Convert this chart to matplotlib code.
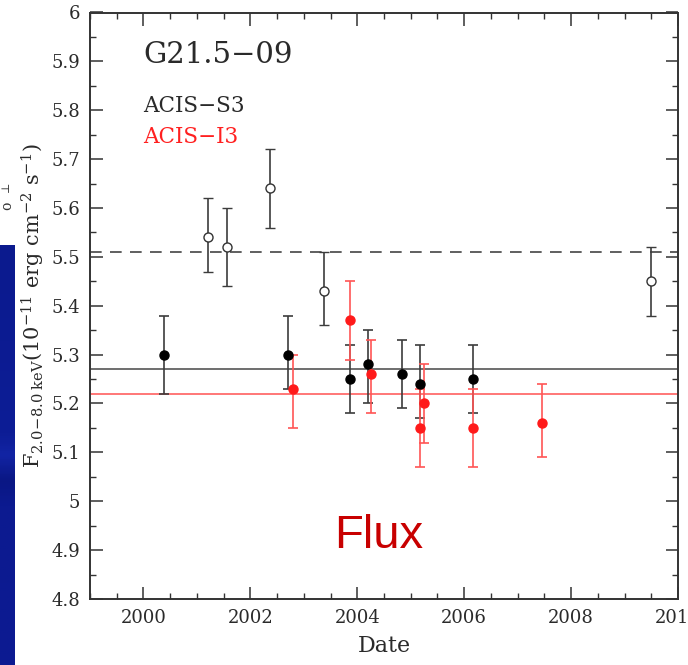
import numpy as np
import matplotlib
matplotlib.use("Agg")
import matplotlib.pyplot as plt
from matplotlib.ticker import MultipleLocator, FormatStrFormatter
from matplotlib.colors import LinearSegmentedColormap

# ACIS-S3, filled points
s3_date = [2000.38, 2002.71, 2003.86, 2004.20, 2004.83, 2005.17, 2006.17]
s3_flux = [5.30, 5.30, 5.25, 5.28, 5.26, 5.24, 5.25]
s3_lo = [0.08, 0.07, 0.07, 0.08, 0.07, 0.07, 0.07]
s3_hi = [0.08, 0.08, 0.07, 0.07, 0.07, 0.08, 0.07]

# ACIS-S3, open points
s3o_date = [2001.21, 2001.56, 2002.36, 2003.37, 2009.49]
s3o_flux = [5.54, 5.52, 5.64, 5.43, 5.45]
s3o_lo = [0.07, 0.08, 0.08, 0.07, 0.07]
s3o_hi = [0.08, 0.08, 0.08, 0.08, 0.07]

# ACIS-I3
i3_date = [2002.79, 2003.86, 2004.25, 2005.17, 2005.25, 2006.17, 2007.45]
i3_flux = [5.23, 5.37, 5.26, 5.15, 5.20, 5.15, 5.16]
i3_lo = [0.08, 0.08, 0.08, 0.08, 0.08, 0.08, 0.07]
i3_hi = [0.07, 0.08, 0.07, 0.08, 0.08, 0.08, 0.08]

# mean levels
s3_mean = 5.27
i3_mean = 5.22
s3o_mean = 5.51

W, H = 688, 665
plt.rcParams['font.family'] = ['DejaVu Serif']
plt.rcParams['mathtext.fontset'] = 'dejavuserif'

fig = plt.figure(figsize=(W / 100, H / 100), dpi=100)
fig.patch.set_facecolor('white')

# blue strip of the slide behind the plot
strip = fig.add_axes([0, 0, 14 / W, (H - 245) / H])
cmap = LinearSegmentedColormap.from_list(
    'slide', [(0.0, '#0b1a8e'), (0.45, '#0d1d96'), (0.5, '#1224a4'),
              (0.56, '#0a1784'), (0.62, '#0c1a90'), (1.0, '#0c1b92')])
strip.imshow(np.linspace(0, 1, 200).reshape(-1, 1), aspect='auto', cmap=cmap)
strip.axis('off')
fig.text(0 / W, 1 - 207 / H, 'o', rotation=90, fontsize=10, color='#333333')
fig.text(1 / W, 1 - 190 / H, '\u22a5', rotation=90, fontsize=8, color='#333333')

ax = fig.add_axes([90 / W, 1 - 599 / H, 588 / W, 586.5 / H])

grey = '#3c3c3c'
red = '#ff1a1a'

ax.axhline(s3o_mean, color='#444444', lw=1.2, dashes=(7, 5))
ax.axhline(s3_mean, color='#555555', lw=1.2)
ax.axhline(i3_mean, color='#ff6060', lw=1.2)

ax.errorbar(s3o_date, s3o_flux, yerr=[s3o_lo, s3o_hi], fmt='o', ms=6.5,
            mfc='white', mec='#333333', mew=1.0, ecolor=grey, elinewidth=1.2,
            capsize=3.5, capthick=1.2)
ax.errorbar(s3_date, s3_flux, yerr=[s3_lo, s3_hi], fmt='o', ms=6.5,
            mfc='black', mec='black', ecolor=grey, elinewidth=1.2,
            capsize=3.5, capthick=1.2)
ax.errorbar(i3_date, i3_flux, yerr=[i3_lo, i3_hi], fmt='o', ms=6.5,
            mfc=red, mec=red, ecolor='#ff5555', elinewidth=1.2,
            capsize=3.5, capthick=1.2)

ax.set_xlim(1999, 2010)
ax.set_ylim(4.8, 6.0)
ax.xaxis.set_major_locator(MultipleLocator(2))
ax.xaxis.set_minor_locator(MultipleLocator(0.5))
ax.yaxis.set_major_locator(MultipleLocator(0.1))
ax.yaxis.set_minor_locator(MultipleLocator(0.05))
ax.yaxis.set_major_formatter(FormatStrFormatter('%g'))
ax.tick_params(which='both', direction='in', top=True, right=True,
               colors='#333333', labelcolor='#2a2a2a', labelsize=13)
ax.tick_params(which='major', length=9, width=1.1, pad=7)
ax.tick_params(which='minor', length=4.5, width=1.0)
for sp in ax.spines.values():
    sp.set_color('#333333')
    sp.set_linewidth(1.4)

ax.set_xlabel('Date', fontsize=16, color='#2a2a2a', labelpad=6)
ax.set_ylabel(r'$\mathrm{F_{2.0\!-\!8.0\ keV}(10^{-11}\ erg\ cm^{-2}\ s^{-1})}$',
              fontsize=15, color='#2a2a2a', labelpad=3)

fig.text(143 / W, 1 - 63 / H, 'G21.5\u221209', fontsize=21, color='#2a2a2a')
fig.text(143 / W, 1 - 112 / H, 'ACIS\u2212S3', fontsize=15.5, color='#2a2a2a')
fig.text(143 / W, 1 - 143 / H, 'ACIS\u2212I3', fontsize=15.5, color='#ff2020')
fig.text(379 / W, 1 - 548 / H, 'Flux', fontsize=34, color='#c80000',
         family='Liberation Sans', ha='center', va='baseline')

fig.savefig('out.png', dpi=100)
